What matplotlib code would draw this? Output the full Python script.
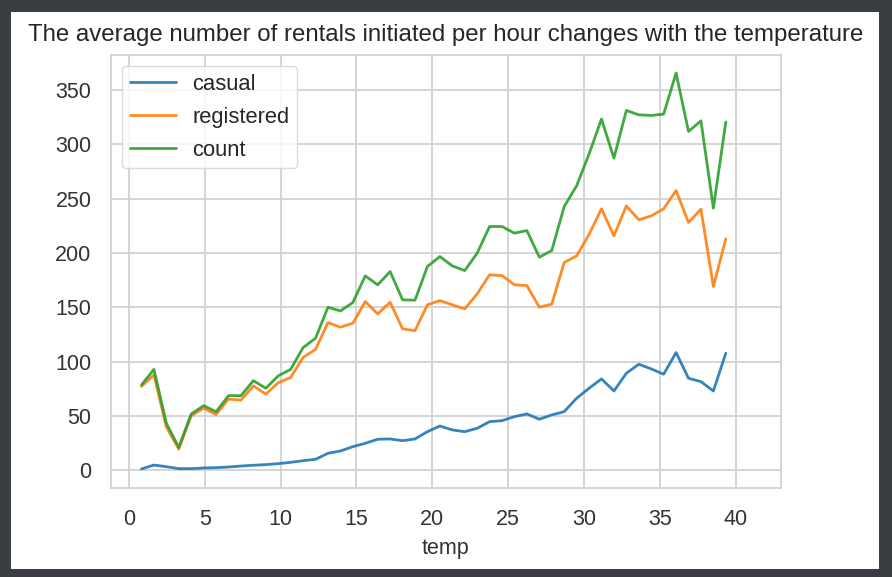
import numpy as np
import matplotlib
matplotlib.use('Agg')
from matplotlib import pyplot as plt
from matplotlib.patches import Rectangle
import seaborn as sns

# mean rentals per hour, grouped by temperature
temp = [0.82, 1.64, 2.46, 3.28, 4.1, 4.92, 5.74, 6.56, 7.38, 8.2, 9.02, 9.84,
        10.66, 11.48, 12.3, 13.12, 13.94, 14.76, 15.58, 16.4, 17.22, 18.04,
        18.86, 19.68, 20.5, 21.32, 22.14, 22.96, 23.78, 24.6, 25.42, 26.24,
        27.06, 27.88, 28.7, 29.52, 30.34, 31.16, 31.98, 32.8, 33.62, 34.44,
        35.26, 36.08, 36.9, 37.72, 38.54, 39.36]

casual = [1.4, 5.0, 3.5, 1.7, 1.7, 2.3, 2.6, 3.2, 4.1, 4.8, 5.4, 6.3,
          7.5, 9.0, 10.3, 15.8, 17.9, 21.9, 25.0, 28.7, 29.0, 27.4,
          29.0, 35.7, 40.9, 37.3, 35.7, 38.8, 44.9, 45.8, 49.5, 52.0,
          47.1, 51.1, 54.1, 66.4, 75.6, 84.2, 73.1, 89.4, 97.7, 93.4,
          88.5, 108.4, 84.8, 81.7, 73.1, 107.8]

registered = [77.3, 88.0, 40.0, 19.6, 50.3, 57.3, 51.4, 65.6, 64.7, 77.8, 70.2, 80.7,
              85.5, 104.0, 111.3, 136.0, 131.7, 135.4, 155.3, 144.0, 154.7, 130.2,
              128.6, 152.3, 156.2, 152.3, 148.6, 162.4, 179.9, 179.2, 170.7, 170.0,
              150.1, 152.9, 191.2, 197.3, 217.0, 240.6, 215.7, 243.3, 230.5, 234.1,
              240.6, 257.4, 228.0, 240.3, 169.1, 213.0]

count = [78.7, 93.0, 43.4, 21.3, 52.0, 59.6, 54.0, 68.8, 68.8, 82.6, 75.6, 87.0,
         93.0, 113.0, 121.6, 150.1, 146.7, 154.4, 178.9, 170.7, 182.9, 156.9,
         156.6, 187.5, 196.7, 188.1, 183.8, 199.8, 224.3, 224.3, 218.2, 220.6,
         196.1, 202.2, 242.7, 261.7, 291.0, 323.1, 287.2, 331.0, 327.0, 326.4,
         327.7, 365.4, 311.7, 321.5, 241.2, 320.3]

sns.set_style('whitegrid')
plt.rcParams['font.family'] = ['Liberation Sans', 'DejaVu Sans']

fig = plt.figure(figsize=(8.92, 5.77), dpi=100)
fig.patch.set_facecolor('#3a3d41')
# white notebook output cell on the dark page
fig.patches.append(Rectangle((11 / 892, 8 / 577), 868 / 892, 557 / 577,
                             transform=fig.transFigure, facecolor='white',
                             edgecolor='none', zorder=-5))

ax = fig.add_axes([111 / 892, 89 / 577, 670 / 892, 433 / 577])

ax.plot(temp, casual, label='casual', lw=2, alpha=0.9)
ax.plot(temp, registered, label='registered', lw=2, alpha=0.9)
ax.plot(temp, count, label='count', lw=2, alpha=0.9)

ax.set_xlim(-1.19, 43.0)
ax.set_ylim(-16.1, 382.0)
ax.set_xticks(np.arange(0, 41, 5))
ax.set_yticks(np.arange(0, 351, 50))

ax.grid(True, color='#d2d2d2', lw=1.3)
for sp in ax.spines.values():
    sp.set_color('#d2d2d2')
    sp.set_linewidth(1.3)

ax.tick_params(axis='both', length=0, labelsize=15.5, labelcolor='#333333')
ax.tick_params(axis='y', pad=14)
ax.tick_params(axis='x', pad=15)

ax.set_xlabel('temp', fontsize=15.5, color='#333333', labelpad=6)
ax.set_title('The average number of rentals initiated per hour changes with the temperature',
             fontsize=17.3, color='#262626', pad=10)

leg = ax.legend(loc='upper left', fontsize=15.8, frameon=True, borderaxespad=0.5,
                borderpad=0.35, handlelength=2.1, handletextpad=0.75, labelspacing=0.55)
leg.get_frame().set_edgecolor('#d2d2d2')

fig.savefig('out.png', dpi=100, facecolor=fig.get_facecolor())
